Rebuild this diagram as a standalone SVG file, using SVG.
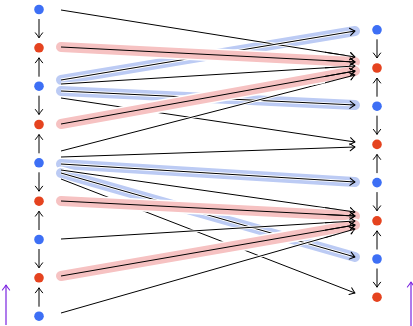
<svg xmlns="http://www.w3.org/2000/svg" width="413" height="326" viewBox="0 0 413 326">
<defs>
<marker id="ah" viewBox="-7 -5 8 10" refX="0" refY="0" markerWidth="8" markerHeight="10" orient="auto" markerUnits="userSpaceOnUse" overflow="visible"><path d="M-5,-3.6 Q-1.6,-0.9 0,0 Q-1.6,0.9 -5,3.6" fill="none" stroke="#000" stroke-width="1" stroke-linecap="round" stroke-linejoin="round"/></marker>
<marker id="ahp" viewBox="-7 -5 8 10" refX="0" refY="0" markerWidth="8" markerHeight="10" orient="auto" markerUnits="userSpaceOnUse" overflow="visible"><path d="M-5,-3.6 Q-1.6,-0.9 0,0 Q-1.6,0.9 -5,3.6" fill="none" stroke="#7a22e0" stroke-width="1.1" stroke-linecap="round" stroke-linejoin="round"/></marker>
</defs>
<style>
.bn{fill:#3d6ff5}
.rn{fill:#e5431f}
.halo{stroke:#fff;stroke-width:13;stroke-linecap:round;fill:none}
.bb{stroke:#bccbf4;stroke-width:10;stroke-linecap:round;fill:none}
.rb{stroke:#f6c2c2;stroke-width:10;stroke-linecap:round;fill:none}
.lh{stroke:#fff;stroke-width:2.8;fill:none}
.ln{stroke:#000;stroke-width:1;fill:none;marker-end:url(#ah)}
.v{stroke:#000;stroke-width:1;fill:none;marker-end:url(#ah)}
.p{stroke:#7a22e0;stroke-width:1.2;fill:none;marker-end:url(#ahp)}
</style>
<rect width="413" height="326" fill="#fff"/>
<g id="connectors">
<!-- blue highlight bands -->
<line class="halo" x1="61" y1="80" x2="355" y2="31"/>
<line class="bb" x1="61" y1="80" x2="355" y2="31"/>
<line class="halo" x1="61" y1="91" x2="355" y2="105"/>
<line class="bb" x1="61" y1="91" x2="355" y2="105"/>
<line class="halo" x1="61" y1="164" x2="355" y2="182"/>
<line class="bb" x1="61" y1="164" x2="355" y2="182"/>
<line class="halo" x1="61" y1="173" x2="355" y2="257"/>
<line class="bb" x1="61" y1="173" x2="355" y2="257"/>
<!-- black edges -->
<line class="lh" x1="61" y1="10" x2="350" y2="56.2"/>
<line class="ln" x1="61" y1="10" x2="355" y2="57"/>
<line class="lh" x1="61" y1="80" x2="350" y2="31.8"/>
<line class="ln" x1="61" y1="80" x2="355" y2="31"/>
<line class="lh" x1="61" y1="84" x2="350" y2="66.3"/>
<line class="ln" x1="61" y1="84" x2="355" y2="66"/>
<line class="lh" x1="61" y1="91" x2="350" y2="104.8"/>
<line class="ln" x1="61" y1="91" x2="355" y2="105"/>
<line class="lh" x1="61" y1="98" x2="350" y2="141.3"/>
<line class="ln" x1="61" y1="98" x2="355" y2="142"/>
<line class="lh" x1="61" y1="151" x2="350" y2="76.3"/>
<line class="ln" x1="61" y1="151" x2="355" y2="75"/>
<line class="lh" x1="61" y1="157" x2="350" y2="147.2"/>
<line class="ln" x1="61" y1="157" x2="355" y2="147"/>
<line class="lh" x1="61" y1="164" x2="350" y2="181.7"/>
<line class="ln" x1="61" y1="164" x2="355" y2="182"/>
<line class="lh" x1="61" y1="170" x2="350" y2="211.3"/>
<line class="ln" x1="61" y1="170" x2="355" y2="212"/>
<line class="lh" x1="61" y1="173" x2="350" y2="255.6"/>
<line class="ln" x1="61" y1="173" x2="355" y2="257"/>
<line class="lh" x1="61" y1="179" x2="350" y2="291.1"/>
<line class="ln" x1="61" y1="179" x2="355" y2="293"/>
<line class="lh" x1="61" y1="239" x2="350" y2="221.3"/>
<line class="ln" x1="61" y1="239" x2="355" y2="221"/>
<line class="lh" x1="61" y1="313" x2="350" y2="230.4"/>
<line class="ln" x1="61" y1="313" x2="355" y2="229"/>
<!-- red highlighted edges -->
<line class="halo" x1="61" y1="47" x2="355" y2="62"/>
<line class="rb" x1="61" y1="47" x2="355" y2="62"/>
<line class="ln" x1="61" y1="47" x2="355" y2="62"/>
<line class="halo" x1="61" y1="124" x2="355" y2="71"/>
<line class="rb" x1="61" y1="124" x2="355" y2="71"/>
<line class="ln" x1="61" y1="124" x2="355" y2="71"/>
<line class="halo" x1="61" y1="201" x2="355" y2="216"/>
<line class="rb" x1="61" y1="201" x2="355" y2="216"/>
<line class="ln" x1="61" y1="201" x2="355" y2="216"/>
<line class="halo" x1="61" y1="276" x2="355" y2="225"/>
<line class="rb" x1="61" y1="276" x2="355" y2="225"/>
<line class="ln" x1="61" y1="276" x2="355" y2="225"/>
<!-- converging ends on top -->
<line class="ln" x1="325" y1="52.2" x2="355" y2="57"/>
<line class="ln" x1="325" y1="60.5" x2="355" y2="62"/>
<line class="ln" x1="325" y1="67.8" x2="355" y2="66"/>
<line class="ln" x1="325" y1="76.4" x2="355" y2="71"/>
<line class="ln" x1="325" y1="82.8" x2="355" y2="75"/>
<line class="ln" x1="325" y1="207.7" x2="355" y2="212"/>
<line class="ln" x1="325" y1="214.5" x2="355" y2="216"/>
<line class="ln" x1="325" y1="222.8" x2="355" y2="221"/>
<line class="ln" x1="325" y1="230.2" x2="355" y2="225"/>
<line class="ln" x1="325" y1="237.6" x2="355" y2="229"/>
<!-- vertical left -->
<line class="v" x1="39" y1="19" x2="39" y2="37.8"/>
<line class="v" x1="39" y1="76.7" x2="39" y2="57.8"/>
<line class="v" x1="39" y1="95.7" x2="39" y2="114.5"/>
<line class="v" x1="39" y1="153.3" x2="39" y2="134.5"/>
<line class="v" x1="39" y1="172.3" x2="39" y2="191.2"/>
<line class="v" x1="39" y1="230" x2="39" y2="211.2"/>
<line class="v" x1="39" y1="249" x2="39" y2="267.8"/>
<line class="v" x1="39" y1="306.7" x2="39" y2="287.8"/>
<!-- vertical right -->
<line class="v" x1="377" y1="39.3" x2="377" y2="58"/>
<line class="v" x1="377" y1="96.7" x2="377" y2="78"/>
<line class="v" x1="377" y1="115.7" x2="377" y2="134.4"/>
<line class="v" x1="377" y1="173.1" x2="377" y2="154.4"/>
<line class="v" x1="377" y1="192.1" x2="377" y2="210.8"/>
<line class="v" x1="377" y1="249.5" x2="377" y2="230.8"/>
<line class="v" x1="377" y1="268.5" x2="377" y2="287.2"/>
<!-- purple -->
<line class="p" x1="6" y1="325" x2="6" y2="285"/>
<line class="p" x1="411" y1="326" x2="411" y2="282"/>
</g>
<g id="L0"><circle class="bn" cx="39" cy="9.5" r="4.8"/></g>
<g id="L1"><circle class="rn" cx="39" cy="47.8" r="4.8"/></g>
<g id="L2"><circle class="bn" cx="39" cy="86.2" r="4.8"/></g>
<g id="L3"><circle class="rn" cx="39" cy="124.5" r="4.8"/></g>
<g id="L4"><circle class="bn" cx="39" cy="162.8" r="4.8"/></g>
<g id="L5"><circle class="rn" cx="39" cy="201.2" r="4.8"/></g>
<g id="L6"><circle class="bn" cx="39" cy="239.5" r="4.8"/></g>
<g id="L7"><circle class="rn" cx="39" cy="277.8" r="4.8"/></g>
<g id="L8"><circle class="bn" cx="39" cy="316.2" r="4.8"/></g>
<g id="R0"><circle class="bn" cx="377" cy="29.8" r="4.8"/></g>
<g id="R1"><circle class="rn" cx="377" cy="68" r="4.8"/></g>
<g id="R2"><circle class="bn" cx="377" cy="106.2" r="4.8"/></g>
<g id="R3"><circle class="rn" cx="377" cy="144.4" r="4.8"/></g>
<g id="R4"><circle class="bn" cx="377" cy="182.6" r="4.8"/></g>
<g id="R5"><circle class="rn" cx="377" cy="220.8" r="4.8"/></g>
<g id="R6"><circle class="bn" cx="377" cy="259" r="4.8"/></g>
<g id="R7"><circle class="rn" cx="377" cy="297.2" r="4.8"/></g>
</svg>
